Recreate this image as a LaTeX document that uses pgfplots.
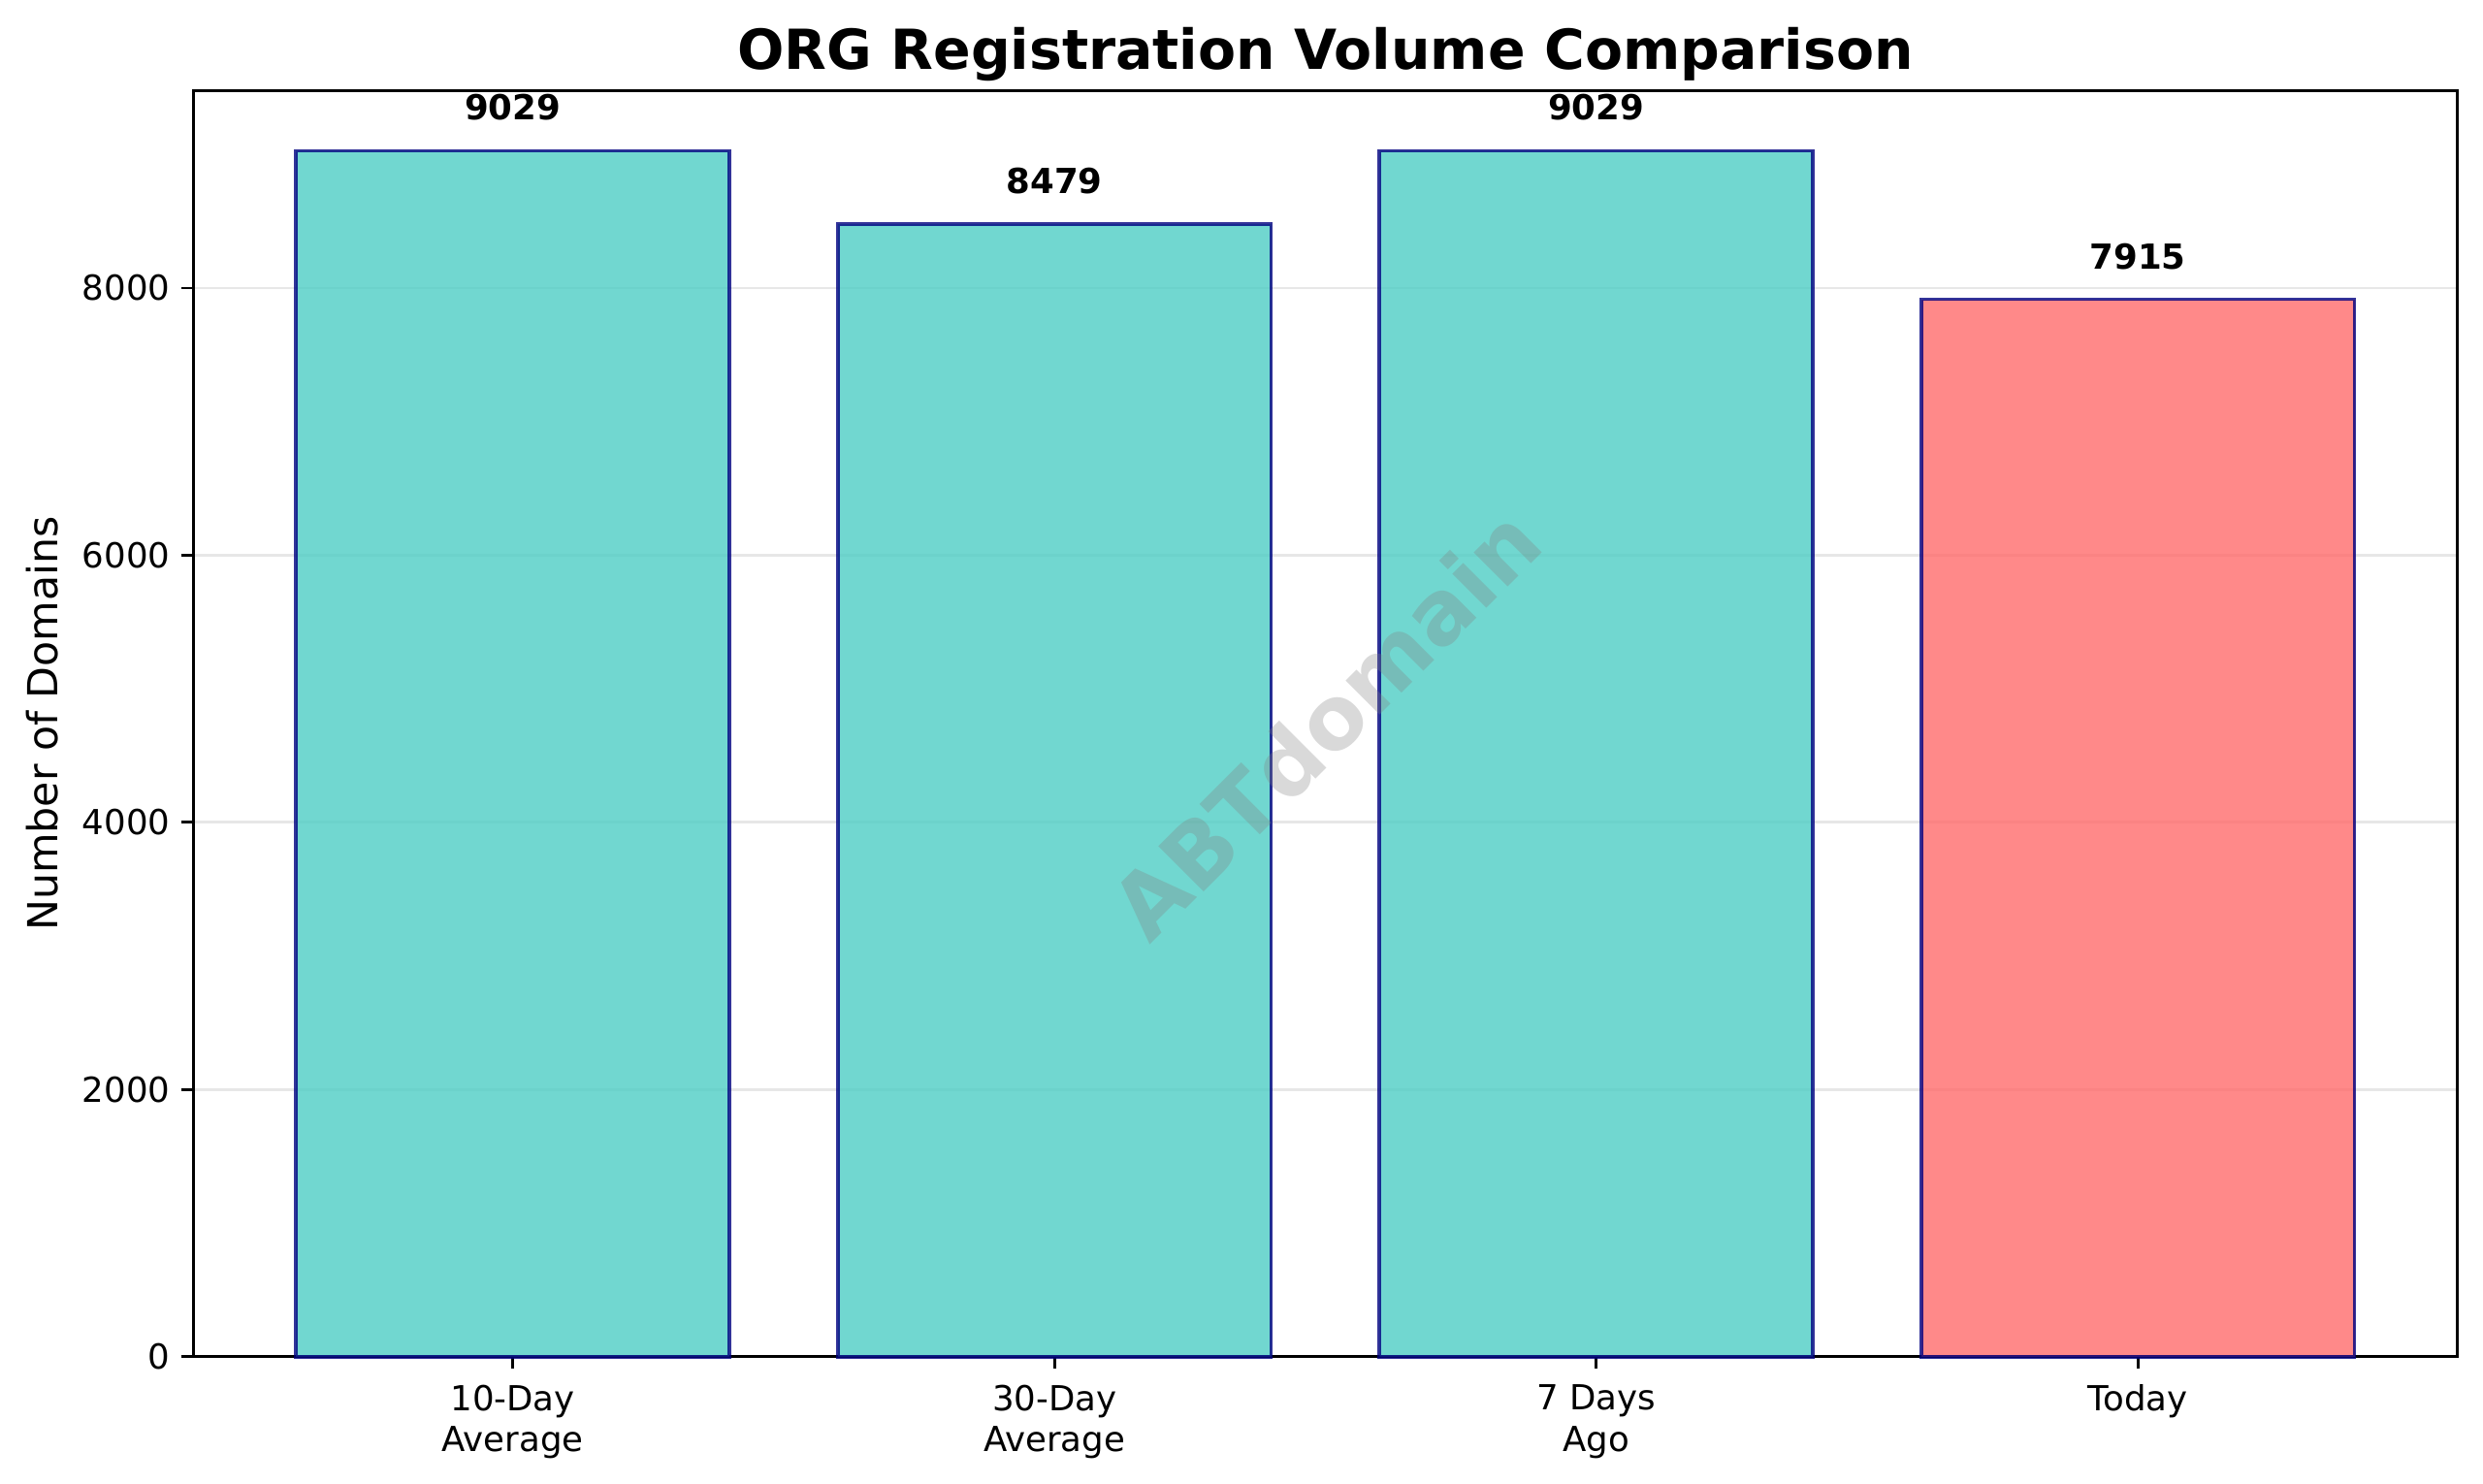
\documentclass[border=0pt]{standalone}
\usepackage{fontspec}
\setmainfont{DejaVu Sans}
\usepackage{pgfplots}
\pgfplotsset{compat=1.18}
\definecolor{tealbar}{HTML}{4ECDC4}
\definecolor{redbar}{HTML}{FF6B6B}
\definecolor{navyedge}{RGB}{0,0,128}
\definecolor{gridc}{HTML}{B0B0B0}
\begin{document}
\begin{tikzpicture}
\useasboundingbox (0,0) rectangle (720pt,430.3pt);
\begin{axis}[
  at={(56pt,36.9pt)}, anchor=south west,
  width=656.6pt, height=367.2pt, scale only axis,
  xmin=-0.59, xmax=3.59,
  ymin=0, ymax=9480.45,
  xtick={0,1,2,3},
  xticklabels={10-Day\\Average,30-Day\\Average,7 Days\\Ago,Today},
  ytick={0,2000,4000,6000,8000},
  scaled ticks=false,
  /pgf/number format/1000 sep={},
  /pgf/number format/assume math mode=true,
  tick pos=left,
  tick align=outside,
  major tick length=3.5pt,
  every tick/.style={black, line width=0.8pt},
  axis line style={line width=0.8pt},
  ymajorgrids,
  grid style={gridc, opacity=0.3, line width=0.8pt},
  xticklabel style={font=\fontsize{10}{12}\selectfont, align=center, inner sep=0pt, anchor=north, yshift=-4.5pt},
  yticklabel style={font=\fontsize{10}{12}\selectfont, inner sep=0pt, anchor=east, xshift=-3pt},
  ylabel={Number of Domains},
  ylabel style={font=\fontsize{12}{14}\selectfont, inner sep=0pt, at={(axis description cs:-0.0597,0.5)}, anchor=base, rotate=0},
  title={ORG Registration Volume Comparison},
  title style={font=\fontsize{16}{19}\bfseries, inner sep=0pt, anchor=base, at={(axis description cs:0.5,1)}},
  point meta=explicit symbolic,
  nodes near coords={\pgfplotspointmeta},
  every node near coord/.append style={font=\fontsize{10}{12}\bfseries, inner sep=0pt, anchor=base, yshift=8.9pt},
  clip=false,
]
\addplot[ybar, bar width=0.8, bar shift=0pt, fill=tealbar, fill opacity=0.8, draw=navyedge, draw opacity=0.8, line width=1pt, text opacity=1]
  coordinates {(0,9029) [9029] (1,8479) [8479] (2,9029) [9029]};
\addplot[ybar, bar width=0.8, bar shift=0pt, fill=redbar, fill opacity=0.8, draw=navyedge, draw opacity=0.8, line width=1pt, text opacity=1]
  coordinates {(3,7915) [7915]};
\node[rotate=45, text=gray, text opacity=0.3, font=\fontsize{25.5}{30}\bfseries] at (axis description cs:0.5,0.5) {ABTdomain};
\end{axis}
\end{tikzpicture}
\end{document}
